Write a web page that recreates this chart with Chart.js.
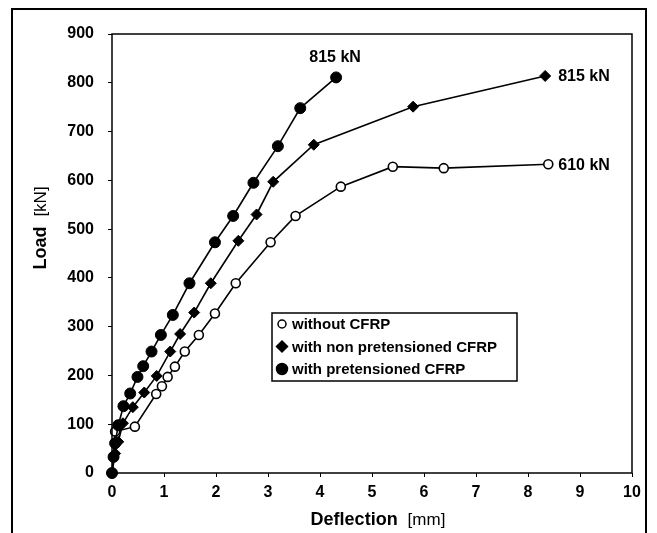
<!DOCTYPE html>
<html>
<head>
<meta charset="utf-8">
<script src="https://cdn.jsdelivr.net/npm/chart.js@4.4.1/dist/chart.umd.min.js"></script>
<style>
  html, body { margin: 0; padding: 0; background: #fff; }
  #wrap { width: 657px; height: 533px; }
</style>
</head>
<body>
<div id="wrap"><canvas id="chart" width="657" height="533"></canvas></div>
<script>
// values
const xTicks = [0, 1, 2, 3, 4, 5, 6, 7, 8, 9, 10];
const yTicks = [0, 100, 200, 300, 400, 500, 600, 700, 800, 900];

const withoutX = [0, 0.06, 0.44, 0.85, 0.96, 1.07, 1.21, 1.40, 1.67, 1.98, 2.38, 3.05, 3.53, 4.40, 5.40, 6.38, 8.39];
const withoutY = [0, 85, 95, 162, 178, 197, 218, 249, 283, 327, 389, 473, 527, 587, 628, 625, 633];

const nonPreX = [0, 0.06, 0.12, 0.21, 0.40, 0.62, 0.86, 1.12, 1.31, 1.58, 1.90, 2.43, 2.78, 3.10, 3.88, 5.79, 8.33];
const nonPreY = [0, 40, 64, 102, 135, 165, 199, 249, 285, 329, 389, 476, 530, 597, 673, 751, 814];

const preX = [0, 0.03, 0.06, 0.12, 0.22, 0.35, 0.49, 0.60, 0.76, 0.94, 1.17, 1.49, 1.98, 2.33, 2.72, 3.19, 3.62, 4.31];
const preY = [0, 33, 61, 98, 137, 163, 197, 219, 249, 283, 324, 389, 473, 527, 595, 670, 748, 811];

const seriesLabels = ["without CFRP", "with non pretensioned CFRP", "with pretensioned CFRP"];
const endLabels = ["610 kN", "815 kN", "815 kN"];

const zip = (xs, ys) => xs.map((x, i) => ({ x: x, y: ys[i] }));

const FONT = "'Liberation Sans', Arial, sans-serif";

// frame, plot box, legend box, end labels and axis titles
const decorPlugin = {
  id: "decor",
  afterDraw(chart) {
    const { ctx, chartArea: a, scales } = chart;
    ctx.save();

    // outer figure frame
    ctx.strokeStyle = "#000";
    ctx.lineWidth = 2;
    ctx.beginPath();
    ctx.moveTo(12, 540);
    ctx.lineTo(12, 9);
    ctx.lineTo(646, 9);
    ctx.lineTo(646, 540);
    ctx.stroke();

    // plot box
    ctx.lineWidth = 1.5;
    ctx.strokeRect(a.left, a.top, a.right - a.left, a.bottom - a.top);

    // end labels
    ctx.fillStyle = "#000";
    ctx.font = "bold 16px " + FONT;
    ctx.textBaseline = "middle";
    const d = chart.data.datasets;
    const lastOf = (ds) => ds.data[ds.data.length - 1];
    let p = lastOf(d[0]);
    ctx.textAlign = "left";
    ctx.fillText(endLabels[0], scales.x.getPixelForValue(p.x) + 10, scales.y.getPixelForValue(p.y) + 1);
    p = lastOf(d[1]);
    ctx.fillText(endLabels[1], scales.x.getPixelForValue(p.x) + 13, scales.y.getPixelForValue(p.y) + 1);
    p = lastOf(d[2]);
    ctx.textAlign = "center";
    ctx.fillText(endLabels[2], scales.x.getPixelForValue(p.x) - 1, scales.y.getPixelForValue(p.y) - 20);

    // legend
    const lx = 272, ly = 313, lw = 245, lh = 68;
    ctx.lineWidth = 1.5;
    ctx.strokeRect(lx, ly, lw, lh);
    ctx.font = "bold 15px " + FONT;
    ctx.textAlign = "left";
    d.forEach((ds, i) => {
      const cy = ly + 11 + i * 22.5;
      const cx = lx + 10;
      ctx.beginPath();
      ctx.lineWidth = 1.5;
      ctx.fillStyle = ds.pointBackgroundColor;
      if (ds.pointStyle === "rectRot") {
        const r = 5.5;
        ctx.moveTo(cx, cy - r);
        ctx.lineTo(cx + r, cy);
        ctx.lineTo(cx, cy + r);
        ctx.lineTo(cx - r, cy);
        ctx.closePath();
      } else {
        ctx.arc(cx, cy, i === 0 ? 4 : 5.5, 0, Math.PI * 2);
      }
      ctx.fill();
      ctx.stroke();
      ctx.fillStyle = "#000";
      ctx.fillText(seriesLabels[i], lx + 20, cy + 1);
    });

    // axis titles: bold word, plain unit
    const drawTitle = (bold, plain, x, y) => {
      ctx.font = "bold 18px " + FONT;
      const w1 = ctx.measureText(bold + "  ").width;
      ctx.font = "17px " + FONT;
      const w2 = ctx.measureText(plain).width;
      let sx = x - (w1 + w2) / 2;
      ctx.textAlign = "left";
      ctx.font = "bold 18px " + FONT;
      ctx.fillText(bold, sx, y);
      ctx.font = "17px " + FONT;
      ctx.fillText(plain, sx + w1, y);
    };
    ctx.fillStyle = "#000";
    drawTitle("Deflection", "[mm]", 378, 520);
    ctx.translate(41, 228);
    ctx.rotate(-Math.PI / 2);
    drawTitle("Load", "[kN]", 0, 0);

    ctx.restore();
  }
};

new Chart(document.getElementById("chart"), {
  type: "scatter",
  data: {
    datasets: [
      {
        label: seriesLabels[0],
        data: zip(withoutX, withoutY),
        order: 2,
        showLine: true,
        borderColor: "#000",
        borderWidth: 1.6,
        pointStyle: "circle",
        pointRadius: 4.5,
        pointBorderWidth: 1.6,
        pointBackgroundColor: "#fff",
        pointBorderColor: "#000",
        clip: false
      },
      {
        label: seriesLabels[1],
        data: zip(nonPreX, nonPreY),
        order: 1,
        showLine: true,
        borderColor: "#000",
        borderWidth: 1.6,
        pointStyle: "rectRot",
        pointRadius: 5.5,
        pointBorderWidth: 1,
        pointBackgroundColor: "#000",
        pointBorderColor: "#000",
        clip: false
      },
      {
        label: seriesLabels[2],
        data: zip(preX, preY),
        order: 0,
        showLine: true,
        borderColor: "#000",
        borderWidth: 1.6,
        pointStyle: "circle",
        pointRadius: 5.5,
        pointBorderWidth: 1,
        pointBackgroundColor: "#000",
        pointBorderColor: "#000",
        clip: false
      }
    ]
  },
  options: {
    responsive: false,
    animation: false,
    layout: { padding: { left: 0, top: 34, right: 25, bottom: 0 } },
    plugins: {
      legend: { display: false },
      tooltip: { enabled: false }
    },
    scales: {
      x: {
        type: "linear",
        min: xTicks[0],
        max: xTicks[xTicks.length - 1],
        afterFit: (s) => { s.height = 60; },
        afterBuildTicks: (s) => { s.ticks = xTicks.map((v) => ({ value: v })); },
        border: { display: false },
        grid: { drawOnChartArea: false, tickLength: 4, color: "#000", lineWidth: 1 },
        ticks: { color: "#000", padding: 6, font: { family: FONT, size: 16, weight: "bold" } }
      },
      y: {
        type: "linear",
        min: yTicks[0],
        max: yTicks[yTicks.length - 1],
        afterFit: (s) => { s.width = 112; },
        afterBuildTicks: (s) => { s.ticks = yTicks.map((v) => ({ value: v })); },
        border: { display: false },
        grid: { drawOnChartArea: false, tickLength: 4, color: "#000", lineWidth: 1 },
        ticks: { color: "#000", padding: 14, font: { family: FONT, size: 16, weight: "bold" } }
      }
    }
  },
  plugins: [decorPlugin]
});
</script>
</body>
</html>
